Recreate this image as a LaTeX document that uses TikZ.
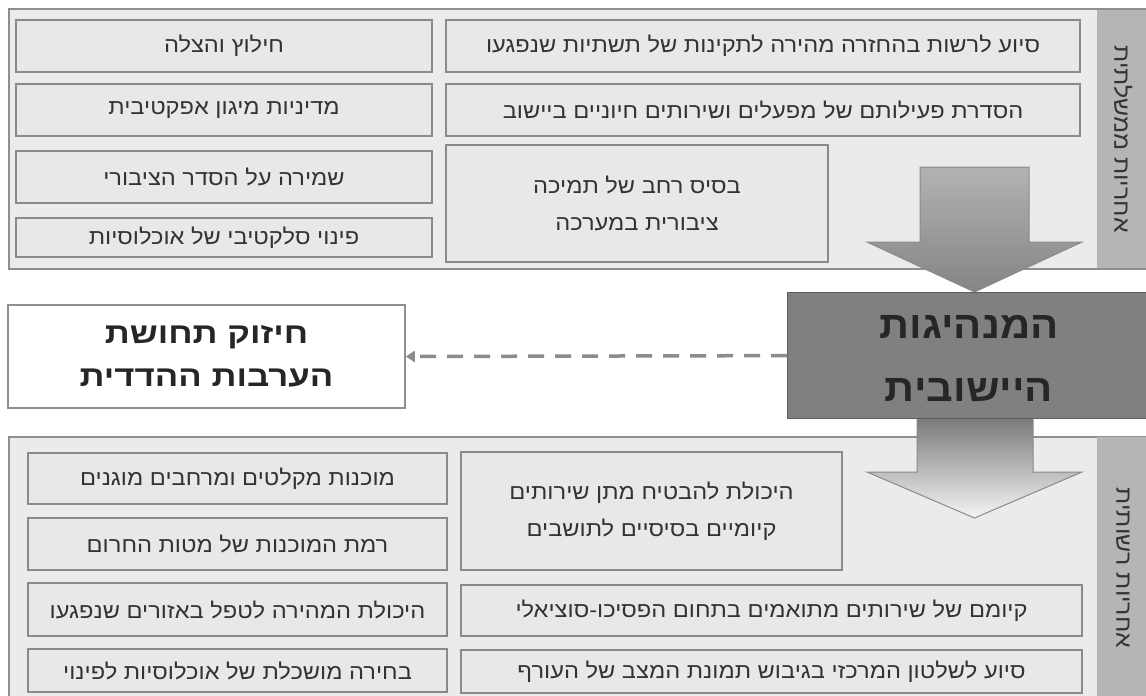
\documentclass[tikz,border=0pt]{standalone}
\usepackage{fontspec}
\usetikzlibrary{arrows.meta}
\newfontfamily\heb[Script=Hebrew,FakeStretch=1.1]{Liberation Sans}
\newfontfamily\hebwide[Script=Hebrew,FakeStretch=1.2]{Liberation Sans}
\newfontfamily\hebstrip[Script=Hebrew,FakeStretch=1.13]{Liberation Sans}
\TeXXeTstate=1
\definecolor{panelfill}{HTML}{EBEBEB}
\definecolor{panelborder}{HTML}{8F8F8F}
\definecolor{itemfill}{HTML}{E8E8E8}
\definecolor{itemborder}{HTML}{8A8A8A}
\definecolor{stripfill}{HTML}{B5B5B5}
\definecolor{centerfill}{HTML}{808080}
\definecolor{centerborder}{HTML}{5E5E5E}
\definecolor{textc}{HTML}{333333}
\definecolor{dashc}{HTML}{8C8C8C}
\tikzset{
  panel/.style={draw=panelborder, fill=panelfill, line width=1.6pt, inner sep=0pt},
  strip/.style={fill=stripfill, draw=none, inner sep=0pt, text=textc,
    font=\hebstrip\fontsize{22}{26}\selectfont},
  item/.style={draw=itemborder, fill=itemfill, line width=1.5pt, inner sep=0pt,
    text=textc, align=center, font=\heb\fontsize{21.5}{37}\selectfont},
  leader/.style={draw=centerborder, fill=centerfill, line width=1.2pt, inner sep=0pt,
    text=black!85, align=center, font=\heb\bfseries\fontsize{38}{63}\selectfont},
  result/.style={draw=panelborder, fill=white, line width=1.6pt, inner sep=0pt,
    text=black!85, align=center, font=\hebwide\bfseries\fontsize{29}{43}\selectfont},
  bigarrow/.style={draw=itemborder, line width=1pt},
  link/.style={draw=dashc, line width=3.5pt, dash pattern=on 16pt off 11pt,
    -{Triangle[length=9pt,width=11pt,fill=dashc]}}
}
\begin{document}
\begin{tikzpicture}[x=1pt,y=-1pt]
\useasboundingbox (0,0) rectangle (1146,696);
\fill[white] (0,0) rectangle (1146,696);

% ---------- top panel ----------
\node[panel, minimum width=1150, minimum height=260, anchor=north west] (toppanel) at (8,8) {};
\node[strip, rotate=-90, minimum width=258, minimum height=52] (topstrip) at (1123,139) {\beginR אחריות ממשלתית\endR};

\node[item, minimum width=634, minimum height=52] (t1) at (763,46) {\beginR סיוע לרשות בהחזרה מהירה לתקינות של תשתיות שנפגעו\endR};
\node[item, minimum width=634, minimum height=52] (t2) at (763,110) {\beginR הסדרת פעילותם של מפעלים ושירותים חיוניים ביישוב\endR};
\node[item, minimum width=382, minimum height=117] (t3) at (637,203.5) {\beginR בסיס רחב של תמיכה\endR\\\beginR ציבורית במערכה\endR};

\node[item, minimum width=416, minimum height=52] (l1) at (224,46) {\beginR חילוץ והצלה\endR};
\node[item, minimum width=416, minimum height=52] (l2) at (224,110) {\beginR מדיניות מיגון אפקטיבית\endR};
\node[item, minimum width=416, minimum height=52] (l3) at (224,177) {\beginR שמירה על הסדר הציבורי\endR};
\node[item, minimum width=416, minimum height=39] (l4) at (224,237.5) {\beginR פינוי סלקטיבי של אוכלוסיות\endR};

% ---------- bottom panel ----------
\node[panel, minimum width=1150, minimum height=270, anchor=north west] (botpanel) at (8,436) {};
\node[strip, rotate=-90, minimum width=262, minimum height=52] (botstrip) at (1123,568) {\beginR אחריות רשותית\endR};

\node[item, minimum width=381, minimum height=118] (b1) at (651.5,511) {\beginR היכולת להבטיח מתן שירותים\endR\\\beginR קיומיים בסיסיים לתושבים\endR};
\node[item, minimum width=621, minimum height=51] (b2) at (771.5,610.5) {\beginR קיומם של שירותים מתואמים בתחום הפסיכו-סוציאלי\endR};
\node[item, minimum width=621, minimum height=43] (b3) at (771.5,671.5) {\beginR סיוע לשלטון המרכזי בגיבוש תמונת המצב של העורף\endR};

\node[item, minimum width=419, minimum height=51] (k1) at (237.5,478.5) {\beginR מוכנות מקלטים ומרחבים מוגנים\endR};
\node[item, minimum width=419, minimum height=52] (k2) at (237.5,544) {\beginR רמת המוכנות של מטות החרום\endR};
\node[item, minimum width=419, minimum height=53] (k3) at (237.5,609.5) {\beginR היכולת המהירה לטפל באזורים שנפגעו\endR};
\node[item, minimum width=419, minimum height=43] (k4) at (237.5,670.5) {\beginR בחירה מושכלת של אוכלוסיות לפינוי\endR};

% ---------- big arrows ----------
\shade[bigarrow, top color=black!30, middle color=black!15, bottom color=black!48]
  (920,167) -- (1029,167) -- (1029,242) -- (1082,242) -- (974.5,292)
  -- (867,242) -- (920,242) -- cycle;
\shade[bigarrow, top color=black!52, bottom color=black!4]
  (917,418) -- (1033,418) -- (1033,472) -- (1082,472) -- (974.5,518)
  -- (867,472) -- (917,472) -- cycle;

% ---------- centre and result ----------
\node[leader, minimum width=365, minimum height=126, anchor=north west] (leader) at (787,292) {};
\node[leader, draw=none, fill=none] (leadertext) at (969,359) {\beginR המנהיגות\endR\\\beginR היישובית\endR};

\node[result, minimum width=397, minimum height=103] (result) at (206.5,356.5) {\beginR חיזוק תחושת\endR\\\beginR הערבות ההדדית\endR};

\draw[link] (leader.west) -- (result.east);
\end{tikzpicture}
\end{document}
